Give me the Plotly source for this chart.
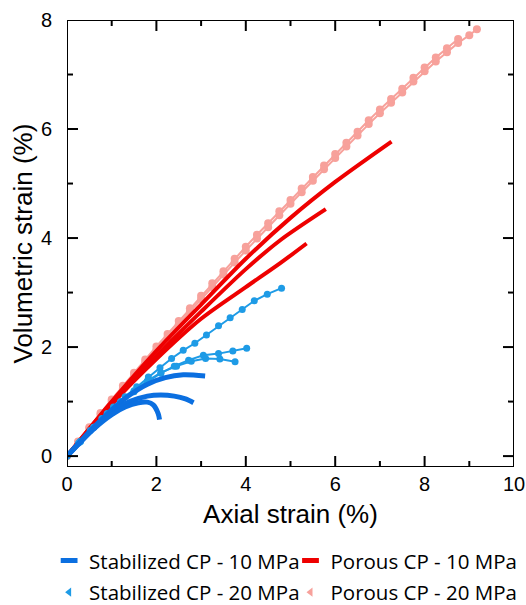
import plotly.graph_objects as go

# ---------------- data ----------------
# Stabilized CP - 10 MPa (three tests)
stab10_a_x = [0, 0.3, 0.6, 1.0, 1.4, 1.8, 2.2, 2.6, 3.09]
stab10_a_y = [0, 0.27, 0.53, 0.85, 1.12, 1.32, 1.44, 1.49, 1.47]
stab10_b_x = [0, 0.3, 0.6, 1.0, 1.4, 1.8, 2.1, 2.4, 2.65, 2.83]
stab10_b_y = [0, 0.26, 0.51, 0.80, 1.00, 1.10, 1.12, 1.10, 1.05, 0.98]
stab10_c_x = [0, 0.3, 0.6, 1.0, 1.3, 1.6, 1.8, 1.93, 2.04, 2.07]
stab10_c_y = [0, 0.26, 0.50, 0.76, 0.90, 0.98, 0.99, 0.94, 0.78, 0.67]

# Stabilized CP - 20 MPa (three tests)
stab20_a_x = [0, 0.26, 0.52, 0.78, 1.04, 1.3, 1.56, 1.82, 2.08, 2.34, 2.6, 2.86, 3.12, 3.39, 3.65, 3.92, 4.19, 4.48, 4.8]
stab20_a_y = [0, 0.24, 0.47, 0.69, 0.90, 1.09, 1.27, 1.45, 1.62, 1.79, 1.94, 2.07, 2.22, 2.39, 2.54, 2.69, 2.85, 2.97, 3.08]
stab20_b_x = [0, 0.3, 0.6, 0.9, 1.2, 1.5, 1.8, 2.1, 2.4, 2.72, 3.05, 3.39, 3.71, 4.02]
stab20_b_y = [0, 0.27, 0.53, 0.77, 0.99, 1.18, 1.36, 1.52, 1.65, 1.76, 1.85, 1.88, 1.93, 1.98]
stab20_c_x = [0, 0.3, 0.6, 0.9, 1.2, 1.5, 1.8, 2.1, 2.45, 2.78, 3.1, 3.42, 3.76]
stab20_c_y = [0, 0.27, 0.53, 0.78, 1.00, 1.20, 1.38, 1.53, 1.65, 1.74, 1.79, 1.78, 1.73]

# Porous CP - 10 MPa (three tests)
por10_a_x = [0, 1, 2, 3, 4, 5, 6, 7.26]
por10_a_y = [0, 1.0, 1.93, 2.78, 3.62, 4.37, 5.03, 5.77]
por10_b_x = [0, 1, 2, 3, 4, 4.77, 5.79]
por10_b_y = [0, 0.98, 1.84, 2.65, 3.43, 3.96, 4.53]
por10_c_x = [0, 1, 2, 3, 4, 4.77, 5.36]
por10_c_y = [0, 0.95, 1.78, 2.52, 3.10, 3.54, 3.90]

# Porous CP - 20 MPa (two tests)
por20_a_x = [0, 0.25, 0.5, 0.75, 1.0, 1.25, 1.5, 1.75, 2.0, 2.25, 2.5, 2.75, 3.0, 3.25, 3.5, 3.75,
             4.0, 4.25, 4.5, 4.75, 5.0, 5.25, 5.5, 5.75, 6.0, 6.25, 6.5, 6.75, 7.0, 7.25, 7.5, 7.75,
             8.0, 8.25, 8.5, 8.75, 9.0, 9.17]
por20_a_y = [0, 0.26, 0.51, 0.76, 1.0, 1.24, 1.48, 1.72, 1.95, 2.18, 2.42, 2.65, 2.88, 3.10, 3.33, 3.55,
             3.77, 3.99, 4.20, 4.42, 4.63, 4.84, 5.05, 5.26, 5.47, 5.68, 5.88, 6.09, 6.29, 6.48, 6.67, 6.87,
             7.06, 7.24, 7.41, 7.58, 7.72, 7.83]
por20_b_x = [0, 0.25, 0.5, 0.75, 1.0, 1.25, 1.5, 1.75, 2.0, 2.25, 2.5, 2.75, 3.0, 3.25, 3.5, 3.75,
             4.0, 4.25, 4.5, 4.75, 5.0, 5.25, 5.5, 5.75, 6.0, 6.25, 6.5, 6.75, 7.0, 7.25, 7.5, 7.75,
             8.0, 8.25, 8.5, 8.75]
por20_b_y = [0, 0.27, 0.53, 0.79, 1.04, 1.29, 1.53, 1.77, 2.01, 2.24, 2.48, 2.71, 2.94, 3.17, 3.39, 3.62,
             3.84, 4.06, 4.27, 4.49, 4.70, 4.91, 5.12, 5.33, 5.54, 5.75, 5.95, 6.16, 6.36, 6.55, 6.74, 6.94,
             7.13, 7.31, 7.48, 7.65]

legend_names = ["Stabilized CP - 10 MPa", "Stabilized CP - 20 MPa",
                "Porous CP - 10 MPa", "Porous CP - 20 MPa"]

x_major = [0, 2, 4, 6, 8, 10]
x_minor = [1, 3, 5, 7, 9]
y_major = [0, 2, 4, 6, 8]
y_minor = [1, 3, 5, 7]
x_range = [0, 10]
y_range = [-0.2, 8]

# ---------------- styles ----------------
C_STAB10 = "#0B6FE0"
C_STAB20 = "#1E9BE6"
C_POR10 = "#EE0000"
C_POR20 = "#F7A19B"

PLOT_W = 447.0   # plot area size in px (526 - 67 - 12)
PLOT_H = 447.0   # (605 - 20 - 138)
MAJOR_LEN = 11
MINOR_LEN = 6

fig = go.Figure()

def line(x, y, color, width):
    fig.add_trace(go.Scatter(x=x, y=y, mode="lines", showlegend=False,
                             line=dict(color=color, width=width, shape="spline", smoothing=0.8),
                             hoverinfo="skip"))

def line_mk(x, y, color, width, size):
    fig.add_trace(go.Scatter(x=x, y=y, mode="lines+markers", showlegend=False,
                             line=dict(color=color, width=width),
                             marker=dict(color=color, size=size, symbol="circle"),
                             hoverinfo="skip"))

line_mk(por20_a_x, por20_a_y, C_POR20, 2, 8)
line_mk(por20_b_x, por20_b_y, C_POR20, 2, 8)
line(por10_a_x, por10_a_y, C_POR10, 4)
line(por10_b_x, por10_b_y, C_POR10, 4)
line(por10_c_x, por10_c_y, C_POR10, 4)
line_mk(stab20_a_x, stab20_a_y, C_STAB20, 2, 7)
line_mk(stab20_b_x, stab20_b_y, C_STAB20, 2, 7)
line_mk(stab20_c_x, stab20_c_y, C_STAB20, 2, 7)
line(stab10_a_x, stab10_a_y, C_STAB10, 5)
line(stab10_b_x, stab10_b_y, C_STAB10, 5)
line(stab10_c_x, stab10_c_y, C_STAB10, 5)

# ---- frame + inward ticks (axis decoration built from the axis ranges / tick lists) ----
x0, x1 = x_range
y0, y1 = y_range
ux = (x1 - x0) / PLOT_W   # data units per px
uy = (y1 - y0) / PLOT_H
fx, fy = [x0, x1, x1, x0, x0, None], [y0, y0, y1, y1, y0, None]
for vals, ln in ((x_major, MAJOR_LEN), (x_minor, MINOR_LEN)):
    for v in vals:
        fx += [v, v, None, v, v, None]
        fy += [y0, y0 + ln * uy, None, y1, y1 - ln * uy, None]
for vals, ln in ((y_major, MAJOR_LEN), (y_minor, MINOR_LEN)):
    for v in vals:
        fx += [x0, x0 + ln * ux, None, x1, x1 - ln * ux, None]
        fy += [v, v, None, v, v, None]
fig.add_trace(go.Scatter(x=fx, y=fy, mode="lines", showlegend=False, hoverinfo="skip",
                         line=dict(color="black", width=2), cliponaxis=False,
                         connectgaps=False))

# legend entries (two columns = two legends)
leg_styles = [
    dict(symbol="line-ew", size=12, color=C_STAB10, line=dict(width=5, color=C_STAB10)),
    dict(symbol="triangle-left", size=8, color=C_STAB20, line=dict(width=0)),
    dict(symbol="line-ew", size=12, color=C_POR10, line=dict(width=5, color=C_POR10)),
    dict(symbol="triangle-left", size=8, color=C_POR20, line=dict(width=0)),
]
leg_ids = ["legend", "legend", "legend2", "legend2"]
for i, (name, st, lid) in enumerate(zip(legend_names, leg_styles, leg_ids)):
    fig.add_trace(go.Scatter(x=[None], y=[None], mode="markers", name=name,
                             marker=st, showlegend=True, legend=lid,
                             legendgroup="g%d" % i))

TICKFONT = dict(family="Liberation Sans, Arial", size=20, color="black")
fig.update_layout(
    xaxis=dict(range=x_range, tickvals=x_major, ticktext=[str(v) for v in x_major],
               showline=False, ticks="", showgrid=False, zeroline=False, tickfont=TICKFONT,
               ticklabelstandoff=3,
               title=dict(text="Axial strain (%)", standoff=10,
                          font=dict(family="Liberation Sans, Arial", size=26, color="black"))),
    yaxis=dict(range=y_range, tickvals=y_major, ticktext=[str(v) for v in y_major],
               showline=False, ticks="", showgrid=False, zeroline=False, tickfont=TICKFONT,
               ticklabelstandoff=14),
)

fig.add_annotation(text="Volumetric strain (%)", textangle=-90, xref="paper", yref="paper",
                   x=(22 - 67) / PLOT_W, y=0.5, xanchor="center", yanchor="middle", showarrow=False,
                   font=dict(family="Liberation Sans, Arial", size=26, color="black"))

leg_common = dict(orientation="v", yanchor="top", y=-0.165, tracegroupgap=2,
                  font=dict(family="Open Sans", size=20.5, color="black"),
                  itemwidth=30, bgcolor="rgba(0,0,0,0)")

fig.update_layout(
    width=526, height=605,
    margin=dict(l=67, r=12, t=20, b=138, autoexpand=False),
    plot_bgcolor="white", paper_bgcolor="white",
    showlegend=True,
    legend=dict(x=-0.04, xanchor="left", **leg_common),
    legend2=dict(x=0.50, xanchor="left", **leg_common),
)

fig.write_html("out.html")
